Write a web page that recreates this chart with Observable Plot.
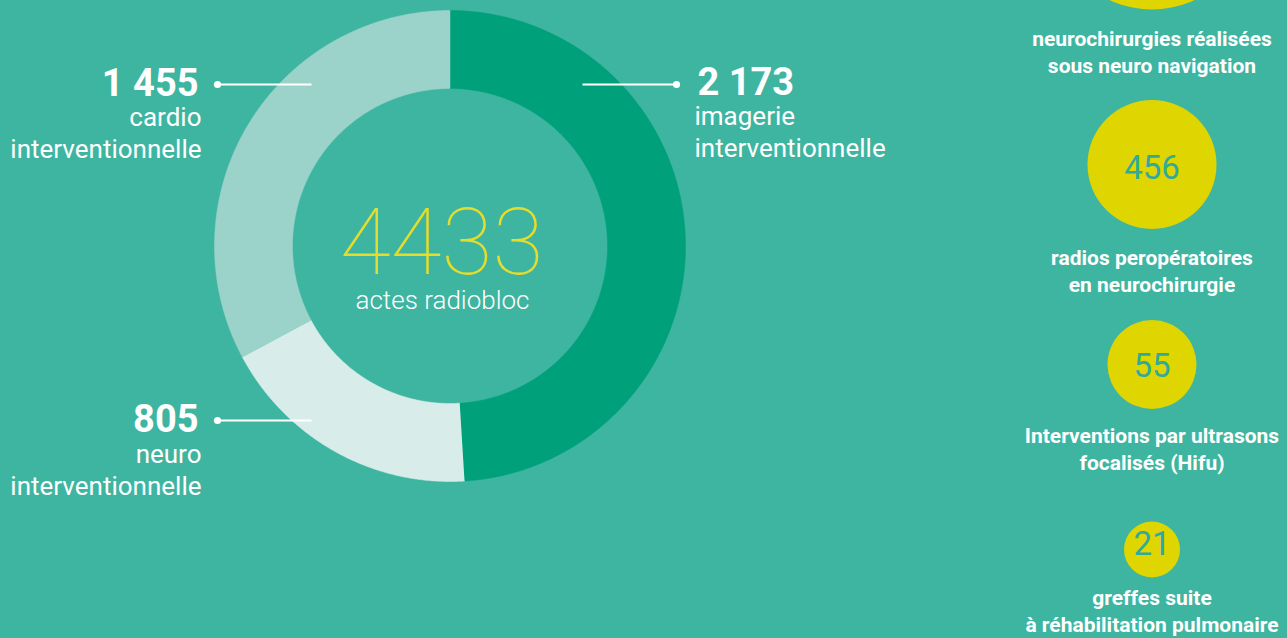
<!DOCTYPE html>
<html><head><meta charset="utf-8">
<script src="https://cdn.jsdelivr.net/npm/d3@7"></script>
<script src="https://cdn.jsdelivr.net/npm/@observablehq/plot@0.6"></script>
<style>
html,body{margin:0;padding:0;background:#3EB5A0;overflow:hidden}
#chart{width:1287px;height:638px}
</style></head><body><div id="chart"></div>
<script>
// ---- data ----
const categories = ["imagerie interventionnelle", "neuro interventionnelle", "cardio interventionnelle"];
const categoryLabels = ["imagerie\ninterventionnelle", "neuro\ninterventionnelle", "cardio\ninterventionnelle"];
const values = [2173, 805, 1455];
const centerLabel = "actes radiobloc";
const bubbleValues = [1100, 456, 55, 21];
const bubbleLabels = [
  "neurochirurgies réalisées\nsous neuro navigation",
  "radios peropératoires\nen neurochirurgie",
  "Interventions par ultrasons\nfocalisés (Hifu)",
  "greffes suite\nà réhabilitation pulmonaire"
];

// ---- layout & style ----
const W = 1287, H = 638;
const cx = 449.5, cy = 245.5, R = 235.5, R0 = 157.5;
const bg = "#3EB5A0";
const sliceColors = ["#00A17A", "#D8EDEA", "#9BD3CB"];
const labelLayout = [
  {side: "right", lineY: 84, lineX1: 582, lineX2: 676, numX: 697, textX: 694, numY: 94, textY: 156},
  {side: "left", lineY: 420, lineX1: 311, lineX2: 217, numX: 198, textX: 201, numY: 431, textY: 494},
  {side: "left", lineY: 84, lineX1: 311, lineX2: 217, numX: 198, textX: 201, numY: 95, textY: 157}
];
const bubbleX = 1151.5;
const bubbleY = [-91, 164, 364, 549];
const bubbleTextDy = [0, 4, 2, -5];
const bubbleLabelY = [72, 291, 469, 631];

const fmt = d3.formatLocale({decimal: ",", thousands: " ", grouping: [3], currency: ["", " €"]}).format(",");

// donut polygons from values
const arcs = d3.pie().sort(null)(values);
const polys = arcs.flatMap((a, i) => {
  const n = Math.max(4, Math.ceil((a.endAngle - a.startAngle) / 0.005));
  const pts = [];
  for (let k = 0; k <= n; k++) {
    const t = a.startAngle + (a.endAngle - a.startAngle) * k / n;
    pts.push({cat: categories[i], x: cx + R * Math.sin(t), y: cy - R * Math.cos(t)});
  }
  for (let k = n; k >= 0; k--) {
    const t = a.startAngle + (a.endAngle - a.startAngle) * k / n;
    pts.push({cat: categories[i], x: cx + R0 * Math.sin(t), y: cy - R0 * Math.cos(t)});
  }
  return pts;
});

const sliceRows = categories.map((c, i) => ({cat: c, value: values[i], label: categoryLabels[i], ...labelLayout[i]}));
const bubbleRows = bubbleValues.map((v, i) => ({value: v, label: bubbleLabels[i], y: bubbleY[i], textY: bubbleY[i] + bubbleTextDy[i], labelY: bubbleLabelY[i]}));
const total = d3.sum(values);

const chart = Plot.plot({
  width: W, height: H, margin: 0,
  x: {domain: [0, W], axis: null},
  y: {domain: [0, H], range: [0, H], axis: null},
  color: {domain: categories, range: sliceColors},
  r: {type: "linear", domain: [21, 55, 456, 1100], range: [28, 44.5, 64.5, 100]},
  style: {background: bg, fontFamily: "Roboto, sans-serif", overflow: "hidden"},
  marks: [
    Plot.line(polys, {x: "x", y: "y", z: "cat", fill: "cat", stroke: "cat", strokeWidth: 0.5, curve: "linear"}),
    Plot.link(sliceRows, {x1: "lineX1", y1: "lineY", x2: "lineX2", y2: "lineY", stroke: "white", strokeWidth: 1.8}),
    Plot.dot(sliceRows, {x: "lineX2", y: "lineY", r: 3.6, fill: "white", stroke: "none"}),
    Plot.text(sliceRows, {filter: d => d.side === "left", x: "numX", y: "numY", text: d => fmt(d.value), textAnchor: "end", lineAnchor: "bottom", fontSize: 38, fontWeight: 700, fill: "white"}),
    Plot.text(sliceRows, {filter: d => d.side === "right", x: "numX", y: "numY", text: d => fmt(d.value), textAnchor: "start", lineAnchor: "bottom", fontSize: 38, fontWeight: 700, fill: "white"}),
    Plot.text(sliceRows, {filter: d => d.side === "left", x: "textX", y: "textY", text: "label", textAnchor: "end", lineAnchor: "bottom", lineHeight: 1.22, fontSize: 26, fontWeight: 400, fill: "white"}),
    Plot.text(sliceRows, {filter: d => d.side === "right", x: "textX", y: "textY", text: "label", textAnchor: "start", lineAnchor: "bottom", lineHeight: 1.22, fontSize: 26, fontWeight: 400, fill: "white"}),
    Plot.text([total], {x: 441, y: 273, text: d => String(d), lineAnchor: "bottom", textAnchor: "middle", fontSize: 93, fontWeight: 100, fill: "#E6DC2C"}),
    Plot.text([centerLabel], {x: 442, y: 308, text: d => d, lineAnchor: "bottom", textAnchor: "middle", fontSize: 26, fontWeight: 300, fill: "white"}),
    Plot.dot(bubbleRows, {x: bubbleX, y: "y", r: "value", fill: "#DFD500", stroke: "none", sort: null}),
    Plot.text(bubbleRows, {filter: d => d.textY > 0, x: bubbleX, y: "textY", text: d => fmt(d.value), lineAnchor: "middle", textAnchor: "middle", fontSize: 33, fontWeight: 400, fill: "#31A99B"}),
    Plot.text(bubbleRows, {x: bubbleX, y: "labelY", text: "label", lineAnchor: "bottom", textAnchor: "middle", lineHeight: 1.24, fontSize: 21, fontWeight: 700, fill: "white"})
  ]
});
document.getElementById("chart").appendChild(chart);
</script>
</body></html>
